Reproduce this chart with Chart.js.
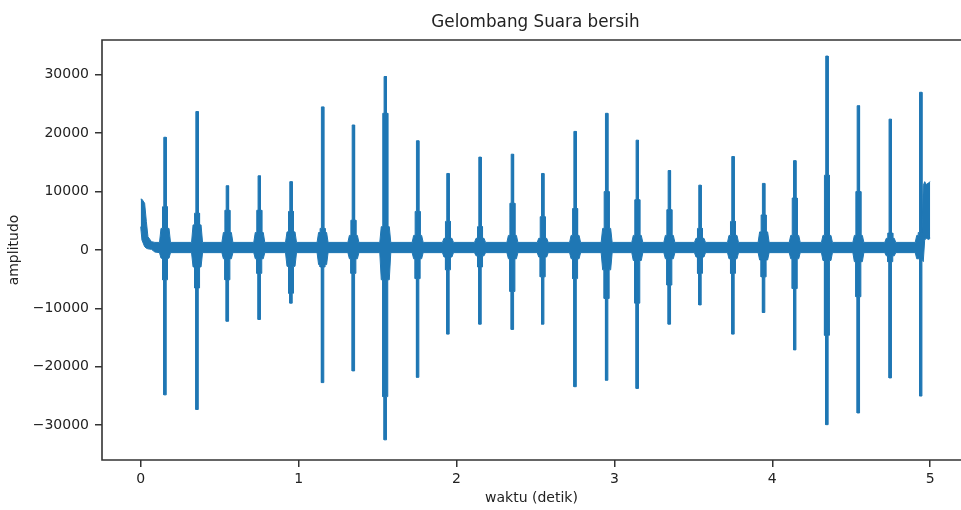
<!DOCTYPE html>
<html>
<head>
<meta charset="utf-8">
<script src="https://cdn.jsdelivr.net/npm/chart.js@4.4.0/dist/chart.umd.min.js"></script>
<style>
  html, body { margin: 0; padding: 0; background: #fff; }
  #wrap { width: 961px; height: 510px; }
</style>
</head>
<body>
<div id="wrap"><canvas id="chart" width="961" height="510"></canvas></div>
<script>
// bursts (time in s, amplitude)
const burstTime = [0.154, 0.357, 0.549, 0.751, 0.952, 1.152, 1.347, 1.549, 1.754, 1.946, 2.149, 2.354, 2.546,
                   2.751, 2.951, 3.145, 3.348, 3.542, 3.751, 3.945, 4.142, 4.346, 4.545, 4.747, 4.940];
const peakHigh  = [19300, 23700, 11000, 12700, 11700, 24500, 21400, 29700, 18700, 13100, 15900, 16400, 13100,
                   20300, 23400, 18800, 13600, 11100, 16000, 11400, 15300, 33200, 24700, 22400, 27000];
const peakLow   = [-24800, -27300, -12200, -11900, -9100, -22700, -20700, -32500, -21800, -14400, -12700, -13600, -12700,
                   -23400, -22300, -23700, -12700, -9400, -14400, -10700, -17100, -29900, -27900, -21900, -25000];
const midHigh   = [7400, 6300, 6800, 6800, 6600, 3700, 5100, 23400, 6600, 4900, 4000, 8000, 5700,
                   7100, 10000, 8600, 6900, 3700, 4900, 6000, 8900, 12800, 10000, 2900, 3000];
const midLow    = [-5100, -6500, -5100, -4000, -7400, -2900, -4000, -25100, -4900, -3400, -2900, -7100, -4600,
                   -4900, -8300, -9100, -6000, -4000, -4000, -4600, -6600, -14600, -8000, -2000, -1500];
const coreHigh  = [3700, 4300, 3000, 3000, 3100, 3000, 2500, 4000, 2500, 2000, 2000, 2500, 2000,
                   2500, 3700, 2500, 2500, 2000, 2500, 3100, 2500, 2500, 2500, 2000, 2500];
const coreLow   = [-1400, -2900, -1500, -1500, -2800, -2500, -1500, -5100, -1500, -1200, -1000, -1500, -1200,
                   -1500, -3400, -1800, -1500, -1200, -1500, -1700, -1500, -1800, -2000, -1000, -1500];

// start of the recording (decaying offset)
const startTime = [0, 0.008, 0.025, 0.036, 0.046, 0.068, 0.09];
const startHigh = [8700, 8700, 8000, 4850, 2280, 1430, 1300];
const startLow  = [4000, 1710, 570, 300, 200, 110, -350];

// end of the recording (raised tail)
const endTime = [4.956, 4.965, 4.975, 4.99, 5.0];
const endHigh = [11000, 11700, 11200, 11500, 11700];
const endLow  = [-2000, 1700, 2000, 1800, 2000];

// background noise band
const noiseHigh = 1300;
const noiseLow = -450;

const xTicks = [0, 1, 2, 3, 4, 5];
const yTicks = [-30000, -20000, -10000, 0, 10000, 20000, 30000];

const blue = '#1f77b4';
const px = 1 / 157.9; // one pixel in seconds

let upper = [], lower = [];
function add(t, hi, lo) {
    upper.push({x: t, y: hi});
    lower.push({x: t, y: lo});
}

for (let i = 0; i < startTime.length; i++) add(startTime[i], startHigh[i], startLow[i]);

for (let i = 0; i < burstTime.length; i++) {
    let t = burstTime[i];
    let last = i == burstTime.length - 1;
    add(t - 5.5 * px, noiseHigh, noiseLow);
    add(t - 4 * px, coreHigh[i], coreLow[i]);
    add(t - 2.5 * px, coreHigh[i], coreLow[i]);
    add(t - 2.5 * px, midHigh[i], midLow[i]);
    add(t - 1.2 * px, midHigh[i], midLow[i]);
    add(t - 1.2 * px, peakHigh[i], peakLow[i]);
    add(t + 1.2 * px, peakHigh[i], peakLow[i]);
    add(t + 1.2 * px, midHigh[i], midLow[i]);
    if (last) break;
    add(t + 2.5 * px, midHigh[i], midLow[i]);
    add(t + 2.5 * px, coreHigh[i], coreLow[i]);
    add(t + 4 * px, coreHigh[i], coreLow[i]);
    add(t + 5.5 * px, noiseHigh, noiseLow);
}
for (let i = 0; i < endTime.length; i++) add(endTime[i], endHigh[i], endLow[i]);

function minus(v) {
    return v < 0 ? '\u2212' + Math.abs(v) : String(v);
}

const frame = {
    id: 'frame',
    afterDraw(chart) {
        let a = chart.chartArea;
        let c = chart.ctx;
        c.save();
        c.strokeStyle = '#333';
        c.lineWidth = 1.6;
        c.beginPath();
        c.moveTo(a.right + 5, a.top);
        c.lineTo(a.left, a.top);
        c.lineTo(a.left, a.bottom);
        c.lineTo(a.right + 5, a.bottom);
        c.stroke();
        c.fillStyle = '#222';
        c.font = '16.8px "DejaVu Sans"';
        c.textAlign = 'center';
        c.textBaseline = 'middle';
        c.fillText('Gelombang Suara bersih', chart.scales.x.getPixelForValue(2.5), 23);
        c.restore();
    }
};

const font = {family: '"DejaVu Sans"', size: 14};

new Chart(document.getElementById('chart').getContext('2d'), {
    type: 'line',
    data: {
        datasets: [{
            data: upper,
            borderColor: blue,
            backgroundColor: blue,
            borderWidth: 1,
            pointRadius: 0,
            fill: false
        }, {
            data: lower,
            borderColor: blue,
            backgroundColor: blue,
            borderWidth: 1,
            pointRadius: 0,
            fill: '-1'
        }]
    },
    options: {
        responsive: false,
        animation: false,
        layout: {padding: {top: 40, right: 0, bottom: 0, left: 0}},
        plugins: {legend: {display: false}, tooltip: {enabled: false}},
        scales: {
            x: {
                type: 'linear',
                min: -0.245,
                max: 5.195,
                afterFit: s => { s.height = 50; },
                afterBuildTicks: s => { s.ticks = xTicks.map(v => ({value: v})); },
                border: {display: false},
                grid: {drawOnChartArea: false, tickLength: 7, color: '#333', lineWidth: 1.5},
                ticks: {font: font, color: '#222', padding: 4, maxRotation: 0, callback: v => minus(v)},
                title: {display: true, text: 'waktu (detik)', font: font, color: '#222', padding: {top: 0, bottom: 3}}
            },
            y: {
                min: -35950,
                max: 35950,
                afterFit: s => { s.width = 102; },
                afterBuildTicks: s => { s.ticks = yTicks.map(v => ({value: v})); },
                border: {display: false},
                grid: {drawOnChartArea: false, tickLength: 7, color: '#333', lineWidth: 1.5},
                ticks: {font: font, color: '#222', padding: 6, callback: v => minus(v)},
                title: {display: true, text: 'amplitudo', font: font, color: '#222', padding: {top: 6, bottom: 0}}
            }
        }
    },
    plugins: [frame]
});
</script>
</body>
</html>
